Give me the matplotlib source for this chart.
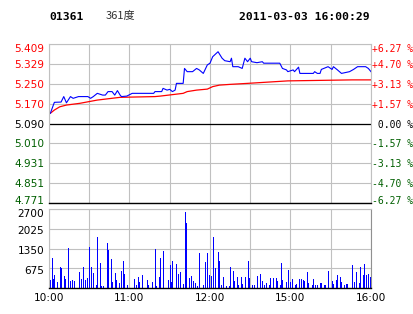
"""
Intraday chart for 01361 (361度), 2011-03-03: price + average line on top, volume bars below.
"""
import matplotlib
matplotlib.use("Agg")
import matplotlib.pyplot as plt
from matplotlib.transforms import ScaledTranslation

# ---- data ----
# minutes since 10:00 (10:00-12:30, 14:30-16:00 -> 240 trading minutes)
price_min = [1, 4, 9, 11, 13, 16, 18, 22, 29, 31, 33, 36, 40, 42, 44, 47, 49, 51, 53, 54,
             58, 62, 78, 79, 84, 85, 88, 90, 92, 94, 95, 100, 101, 103, 107, 110, 112, 115,
             118, 120, 122, 126, 129, 131, 135, 136, 137, 141, 144, 146, 148, 150, 151, 155,
             159, 160, 172, 174, 177, 178, 182, 183, 186, 187, 197, 198, 200, 202, 203, 208,
             211, 212, 215, 218, 224, 227, 230, 236, 238, 240]
price = [5.131, 5.175, 5.176, 5.198, 5.173, 5.198, 5.191, 5.198, 5.198, 5.191, 5.198, 5.211,
         5.204, 5.204, 5.218, 5.218, 5.204, 5.222, 5.204, 5.198, 5.200, 5.211, 5.211, 5.218,
         5.218, 5.231, 5.224, 5.227, 5.218, 5.224, 5.251, 5.251, 5.311, 5.298, 5.298, 5.311,
         5.305, 5.291, 5.325, 5.332, 5.358, 5.378, 5.352, 5.342, 5.338, 5.352, 5.318, 5.318,
         5.311, 5.352, 5.338, 5.352, 5.338, 5.334, 5.338, 5.332, 5.332, 5.311, 5.305, 5.298,
         5.305, 5.298, 5.316, 5.291, 5.291, 5.298, 5.291, 5.291, 5.307, 5.318, 5.307, 5.318,
         5.305, 5.291, 5.298, 5.307, 5.318, 5.318, 5.311, 5.298]

avg_min = [1, 4, 8, 13, 23, 36, 53, 79, 83, 100, 103, 110, 118, 122, 127, 135, 148, 160,
           178, 226, 240]
avg_price = [5.131, 5.144, 5.157, 5.164, 5.171, 5.184, 5.195, 5.198, 5.200, 5.211, 5.218,
             5.224, 5.228, 5.238, 5.244, 5.247, 5.251, 5.255, 5.261, 5.265, 5.265]

vol_min = [1, 2, 3, 4, 6, 8, 9, 11, 12, 14, 16, 17, 19, 22, 24, 25, 27, 28, 30, 31, 33, 35,
           36, 38, 39, 40, 43, 44, 46, 47, 49, 50, 52, 54, 55, 56, 58, 63, 65, 66, 67, 69,
           73, 74, 77, 79, 80, 82, 83, 85, 89, 90, 91, 92, 95, 96, 98, 100, 101, 102, 104,
           106, 107, 109, 110, 112, 115, 116, 118, 119, 121, 122, 124, 126, 127, 128, 130,
           132, 134, 135, 137, 138, 140, 141, 143, 144, 146, 148, 149, 151, 153, 155, 157,
           159, 160, 162, 164, 165, 167, 169, 170, 172, 173, 174, 177, 178, 180, 181, 183,
           184, 186, 188, 189, 190, 192, 193, 196, 197, 198, 200, 202, 203, 205, 206, 208,
           211, 212, 214, 215, 217, 218, 220, 221, 222, 226, 227, 229, 231, 232, 234, 235,
           236, 238, 239]
volume = [275, 1041, 309, 446, 194, 721, 686, 412, 309, 1384, 240, 275, 240, 549, 309, 721,
          275, 343, 1407, 721, 515, 103, 1750, 858, 69, 69, 1544, 1304, 995, 206, 515, 275,
          172, 583, 927, 480, 103, 309, 103, 378, 206, 446, 275, 103, 206, 1338, 69, 378,
          1030, 1270, 275, 789, 206, 927, 824, 480, 549, 137, 2608, 2231, 343, 412, 240, 172,
          69, 1201, 103, 892, 1201, 446, 412, 1750, 686, 1236, 927, 103, 378, 69, 69, 721,
          583, 240, 378, 103, 378, 137, 378, 927, 343, 103, 103, 412, 480, 240, 103, 172,
          103, 343, 343, 343, 240, 103, 858, 275, 206, 618, 206, 309, 103, 137, 309, 309,
          275, 240, 549, 172, 103, 309, 103, 103, 172, 172, 103, 103, 583, 240, 137, 275,
          446, 378, 206, 103, 137, 137, 786, 217, 558, 160, 706, 444, 820, 444, 479, 387]

preclose = 5.090
price_ticks = [4.771, 4.851, 4.931, 5.010, 5.090, 5.170, 5.250, 5.329, 5.409]
pct_labels = ["-6.27 %", "-4.70 %", "-3.13 %", "-1.57 %", " 0.00 %",
              "+1.57 %", "+3.13 %", "+4.70 %", "+6.27 %"]
vol_ticks = [675, 1350, 2025, 2700]
time_ticks = [0, 30, 60, 90, 120, 150, 180, 210, 240]
time_labels = ["10:00", "", "11:00", "", "12:00", "", "15:00", "", "16:00"]

GRID = "#c0c0c0"
RED = "#ff0000"
GREEN = "#005f00"
W, H = 414, 314

plt.rcParams["font.family"] = ["DejaVu Sans"]
fig = plt.figure(figsize=(W / 100, H / 100), dpi=100)


def box(x0, y0, x1, y1):
    return [x0 / W, 1 - y1 / H, (x1 - x0) / W, (y1 - y0) / H]


def nudge(label, dy_px):
    label.set_transform(label.get_transform() + ScaledTranslation(0, dy_px / 100, fig.dpi_scale_trans))


def colour_by_side(labels):
    for lab, v in zip(labels, price_ticks):
        lab.set_color(RED if v > preclose else (GREEN if v < preclose else "black"))


# ---- price panel ----
ax = fig.add_axes(box(49, 44, 371, 203))
ax.plot(avg_min, avg_price, color=RED, lw=0.9)
ax.plot(price_min, price, color="#0000ff", lw=0.8)
ax.set_xlim(0, 240)
ax.set_ylim(price_ticks[0], price_ticks[-1])
ax.set_xticks(time_ticks)
ax.set_xticklabels([])
ax.set_yticks(price_ticks)
ax.set_yticklabels([f"{v:.3f}" for v in price_ticks], fontsize=7.6)
colour_by_side(ax.get_yticklabels())
ax.tick_params(length=0, pad=3.5)
ax.grid(color=GRID, lw=0.8)
ax.axhline(preclose, color="black", lw=0.9)
for s in ["top", "left", "right"]:
    ax.spines[s].set_color(GRID)
    ax.spines[s].set_linewidth(0.8)
ax.spines["bottom"].set_color("black")
ax.spines["bottom"].set_linewidth(1.0)

ax2 = ax.twinx()
ax2.set_ylim(ax.get_ylim())
ax2.set_yticks(price_ticks)
ax2.set_yticklabels(pct_labels, family="DejaVu Sans Mono", fontsize=7)
colour_by_side(ax2.get_yticklabels())
ax2.tick_params(length=0, pad=0.5)
for s in ax2.spines.values():
    s.set_visible(False)

# keep the end labels inside the panel, as in the reference
for labels in (ax.get_yticklabels(), ax2.get_yticklabels()):
    nudge(labels[0], 3.5)
    nudge(labels[-1], -3.5)

# ---- volume panel ----
axv = fig.add_axes(box(49, 209, 371, 288))
axv.vlines(vol_min, 0, volume, color="#0000ff", lw=0.6, antialiased=False)
axv.set_xlim(0, 240)
axv.set_ylim(0, 2700)
axv.set_yticks(vol_ticks)
axv.set_yticklabels([str(v) for v in vol_ticks], fontsize=7.6)
axv.set_xticks(time_ticks)
axv.set_xticklabels(time_labels, fontsize=7.6)
axv.tick_params(length=0, pad=3.5)
axv.grid(color=GRID, lw=0.8)
axv.set_axisbelow(True)
for lab in axv.get_yticklabels():
    nudge(lab, -1.5)
nudge(axv.get_yticklabels()[-1], -2.5)
for s in ["top", "left"]:
    axv.spines[s].set_color(GRID)
    axv.spines[s].set_linewidth(0.8)
axv.spines["right"].set_color("#909090")
axv.spines["right"].set_linewidth(0.8)
axv.spines["bottom"].set_color("black")
axv.spines["bottom"].set_linewidth(1.0)

# ---- header ----
fig.text(49 / W, 1 - 17 / H, "01361", family="DejaVu Sans Mono", weight="bold",
         fontsize=8.2, va="center", ha="left")
fig.text(106 / W, 1 - 16 / H, "361度", family=["Noto Sans CJK SC", "DejaVu Sans"],
         fontsize=8, color="#333333", va="center", ha="left")
fig.text(370 / W, 1 - 17 / H, "2011-03-03 16:00:29", family="DejaVu Sans Mono",
         weight="bold", fontsize=8.2, va="center", ha="right")

fig.savefig("out.png", dpi=100, facecolor="white")
